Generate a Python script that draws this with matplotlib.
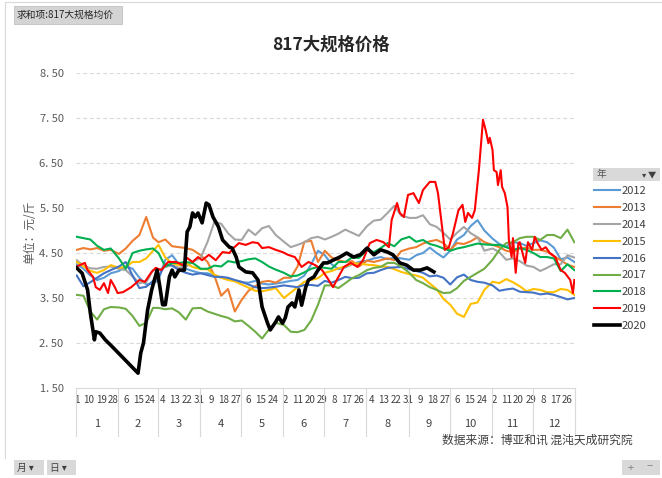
import matplotlib
matplotlib.use('Agg')
import matplotlib.pyplot as plt
from matplotlib.patches import Rectangle
from matplotlib.lines import Line2D
import matplotlib.transforms as mtransforms

plt.rcParams['font.family'] = ['Noto Sans CJK SC', 'DejaVu Sans']

# ---------------- data ----------------
MONTHS = ['1', '2', '3', '4', '5', '6', '7', '8', '9', '10', '11', '12']
MONTH_DAYS = [31, 29, 31, 30, 31, 30, 31, 31, 30, 31, 30, 31]
YEARS = ['2012', '2013', '2014', '2015', '2016', '2017', '2018', '2019', '2020']
COLORS = ['#5B9BD5', '#ED7D31', '#A5A5A5', '#FFC000', '#4472C4',
          '#70AD47', '#00B050', '#FF0000', '#000000']

GRID_DATES = [
    '1/1', '1/6', '1/11', '1/16', '1/21', '1/26',
    '2/1', '2/6', '2/11', '2/16', '2/21', '2/26',
    '3/1', '3/6', '3/11', '3/16', '3/21', '3/26',
    '4/1', '4/6', '4/11', '4/16', '4/21', '4/26',
    '5/1', '5/6', '5/11', '5/16', '5/21', '5/26',
    '6/1', '6/6', '6/11', '6/16', '6/21', '6/26',
    '7/1', '7/6', '7/11', '7/16', '7/21', '7/26',
    '8/1', '8/6', '8/11', '8/16', '8/21', '8/26',
    '9/1', '9/6', '9/11', '9/16', '9/21', '9/26',
    '10/1', '10/6', '10/11', '10/16', '10/21', '10/26',
    '11/1', '11/6', '11/11', '11/16', '11/21', '11/26',
    '12/1', '12/6', '12/11', '12/16', '12/21', '12/26', '12/31']

v2012 = [4.25, 4.15, 4.0, 3.9, 3.95, 4.05,
         4.1, 4.2, 4.15, 3.95, 3.8, 3.82,
         3.9, 4.35, 4.45, 4.25, 4.15, 4.1,
         4.05, 4.05, 4.0, 3.95, 3.92, 3.88,
         3.85, 3.84, 3.88, 3.82, 3.8, 3.82,
         3.85, 3.88, 3.9, 4.0, 4.25, 4.55,
         4.45, 4.25, 4.14, 4.18, 4.25, 4.3,
         4.33, 4.38, 4.41, 4.36, 4.4, 4.38,
         4.35, 4.45, 4.5, 4.62, 4.5, 4.4,
         4.55, 4.8, 4.9, 5.1, 5.23, 5.0,
         4.82, 4.7, 4.64, 4.74, 4.72, 4.66,
         4.72, 4.78, 4.74, 4.62, 4.36, 4.4, 4.3]
v2013 = [4.57, 4.61, 4.58, 4.61, 4.55, 4.57,
         4.48, 4.6, 4.77, 4.9, 5.3, 4.84,
         4.74, 4.8, 4.65, 4.63, 4.61, 4.57,
         4.45, 4.3, 4.0, 3.55, 3.7, 3.2,
         3.46, 3.66, 3.76, 3.86, 3.88, 3.84,
         3.95, 3.95, 4.2, 4.75, 4.77, 4.3,
         4.55, 4.4, 4.34, 4.3, 4.32, 4.2,
         4.33, 4.3, 4.34, 4.38, 4.34, 4.54,
         4.6, 4.63, 4.71, 4.76, 4.79, 4.72,
         4.57, 4.72, 4.7, 4.76, 4.85, 4.74,
         4.68, 4.63, 4.55, 4.52, 4.6, 4.62,
         4.57, 4.57, 4.53, 4.43, 4.34, 4.24, 4.19]
v2014 = [4.34, 4.22, 4.16, 4.15, 4.19, 4.2,
         4.15, 4.12, 3.98, 3.83, 3.85, 4.12,
         4.12, 4.19, 4.23, 4.17, 4.19, 4.3,
         4.4, 4.75, 5.19, 5.15, 4.94, 4.8,
         4.79, 5.02, 4.9, 5.05, 5.1, 4.9,
         4.75, 4.63, 4.68, 4.74, 4.83, 4.86,
         4.8, 4.86, 4.93, 5.02, 4.95, 4.88,
         5.1, 5.22, 5.24, 5.39, 5.55, 5.33,
         5.28, 5.28, 5.34, 5.14, 5.08, 4.95,
         4.8, 4.95, 5.08, 4.94, 4.85, 4.55,
         4.6, 4.52, 4.35, 4.38, 4.32, 4.22,
         4.19, 4.1, 4.17, 4.25, 4.25, 4.45, 4.4]
v2015 = [4.3, 4.2, 4.1, 4.06, 4.12, 4.23,
         4.17, 4.19, 4.3, 4.3, 4.38, 4.55,
         4.68, 4.4, 4.27, 4.23, 4.28, 4.19,
         4.14, 4.14, 4.02, 3.95, 3.9, 3.87,
         3.8, 3.73, 3.66, 3.65, 3.68, 3.72,
         3.5, 3.62, 3.74, 3.86, 3.9, 3.94,
         4.06, 4.1, 4.16, 4.2, 4.26, 4.27,
         4.24, 4.23, 4.2, 4.19, 4.14, 4.08,
         4.03, 4.0, 3.95, 3.82, 3.7, 3.48,
         3.35, 3.15, 3.08, 3.37, 3.4, 3.68,
         3.86, 3.83, 3.92, 3.85, 3.76, 3.65,
         3.7, 3.68, 3.63, 3.63, 3.7, 3.68, 3.57]
v2016 = [4.0, 3.76, 3.85, 3.95, 4.05, 4.12,
         4.2, 4.3, 4.0, 3.72, 3.75, 3.88,
         3.97, 4.25, 4.22, 4.12, 4.06, 4.02,
         4.05, 4.01, 3.97, 3.97, 3.95, 3.9,
         3.86, 3.8, 3.74, 3.72, 3.73, 3.75,
         3.78, 3.76, 3.74, 3.79, 3.79, 3.77,
         3.88, 3.84, 3.9, 3.97, 3.94, 3.95,
         4.05, 4.06, 4.12, 4.17, 4.18, 4.19,
         4.14, 4.1, 4.06, 3.98, 4.0, 3.95,
         3.8, 3.96, 4.02, 3.9, 3.86, 3.84,
         3.78, 3.66, 3.69, 3.71, 3.64, 3.63,
         3.62, 3.58, 3.6, 3.57, 3.52, 3.47, 3.5]
v2017 = [3.57, 3.55, 3.2, 3.02, 3.25, 3.3,
         3.29, 3.26, 3.1, 2.88, 2.95, 3.28,
         3.28, 3.25, 3.27, 3.18, 3.02, 3.27,
         3.28, 3.2, 3.15, 3.1, 3.06, 2.98,
         3.0, 2.88, 2.75, 2.6, 2.8, 2.95,
         2.9, 2.75, 2.74, 2.79, 3.0, 3.35,
         3.78, 3.78, 3.72, 3.83, 3.94, 4.01,
         4.12, 4.17, 4.19, 4.28, 4.28, 4.2,
         4.06, 3.9, 3.83, 3.74, 3.68, 3.61,
         3.62, 3.72, 3.88, 3.97, 4.06, 4.15,
         4.35, 4.57, 4.72, 4.74, 4.83, 4.86,
         4.86, 4.79, 4.9, 4.9, 4.83, 5.02, 4.74]
v2018 = [4.86, 4.83, 4.8, 4.66, 4.57, 4.6,
         4.38, 4.15, 4.5, 4.55, 4.58, 4.6,
         4.5, 4.2, 4.28, 4.28, 4.3, 4.28,
         4.15, 4.15, 4.22, 4.2, 4.32, 4.29,
         4.32, 4.36, 4.38, 4.3, 4.2, 4.13,
         4.06, 3.98, 4.0, 4.07, 4.15, 4.19,
         4.17, 4.15, 4.3, 4.3, 4.4, 4.39,
         4.57, 4.52, 4.61, 4.72, 4.65, 4.8,
         4.86, 4.75, 4.79, 4.7, 4.66, 4.6,
         4.55, 4.6, 4.63, 4.67, 4.71, 4.69,
         4.68, 4.68, 4.63, 4.57, 4.61, 4.57,
         4.5, 4.41, 4.41, 4.38, 4.1, 4.25, 4.12]

dates2019 = ['1/1', '1/7', '1/9', '1/13', '1/15', '1/18', '1/21', '1/24', '1/26', '1/29', '1/31',
             '2/4', '2/10', '2/16', '2/20', '2/25', '2/28',
             '3/3', '3/8', '3/14', '3/19', '3/22', '3/26', '3/30',
             '4/2', '4/7', '4/12', '4/17', '4/22', '4/25', '4/29',
             '5/4', '5/9', '5/13', '5/16', '5/21', '5/26', '5/31',
             '6/4', '6/9', '6/14', '6/19', '6/24', '6/29',
             '7/3', '7/7', '7/11', '7/15', '7/20', '7/25', '7/29',
             '8/3', '8/8', '8/13', '8/17', '8/19', '8/23', '8/25', '8/28', '8/31',
             '9/4', '9/8', '9/11', '9/16', '9/20', '9/22', '9/25', '9/27', '9/30',
             '10/3', '10/7', '10/10', '10/12', '10/14', '10/17', '10/19', '10/22', '10/24',
             '10/25', '10/27', '10/29', '10/30',
             '11/1', '11/2', '11/4', '11/5', '11/7', '11/8', '11/10', '11/12', '11/13',
             '11/15', '11/16', '11/18', '11/20', '11/21', '11/23', '11/25', '11/27', '11/30',
             '12/2', '12/4', '12/7', '12/10', '12/13', '12/17', '12/21', '12/24', '12/28',
             '12/30', '12/31']
v2019 = [4.2, 4.28, 4.12, 3.97, 3.74, 3.68, 3.83, 3.61, 3.9, 3.74, 3.61,
         3.63, 3.74, 3.9, 3.86, 4.08, 4.17,
         4.12, 4.3, 4.3, 4.23, 4.39, 4.3, 4.41,
         4.34, 4.46, 4.34, 4.52, 4.5, 4.61, 4.72,
         4.68, 4.74, 4.72, 4.61, 4.63, 4.57, 4.52,
         4.46, 4.41, 4.19, 4.3, 4.23, 4.12,
         3.94, 3.74, 3.97, 4.19, 4.28, 4.19, 4.34,
         4.72, 4.79, 4.74, 4.63, 5.23, 5.61, 5.39, 5.3, 5.79,
         5.83, 5.61, 5.9, 6.08, 6.08, 5.83, 5.08, 4.57, 4.63,
         4.94, 5.45, 5.57, 5.19, 5.39, 5.28, 5.45, 6.34, 7.08,
         7.46, 7.23, 6.94, 7.06,
         6.79, 6.34, 6.3, 6.01, 6.34, 5.97, 5.83, 5.52, 4.79,
         4.41, 4.83, 4.06, 4.72, 4.74, 4.5, 4.28, 4.74, 4.57,
         4.86, 4.72, 4.57, 4.63, 4.5, 4.41, 4.12, 4.06, 3.9,
         3.61, 3.9]

dates2020 = ['1/1', '1/5', '1/9', '1/11', '1/14', '1/15', '1/18', '1/22', '1/27',
             '2/15', '2/17', '2/19', '2/22', '2/25', '2/29',
             '3/2', '3/4', '3/6', '3/9', '3/11', '3/13', '3/16', '3/20', '3/22', '3/24',
             '3/26', '3/28', '3/30',
             '4/2', '4/5', '4/7', '4/10', '4/14', '4/17', '4/22', '4/24', '4/27', '4/29',
             '5/4', '5/9', '5/13', '5/16', '5/20', '5/22', '5/26', '5/28', '5/31',
             '6/2', '6/4', '6/7', '6/9', '6/12', '6/14', '6/17', '6/19', '6/23', '6/26', '6/30',
             '7/3', '7/7', '7/12', '7/17', '7/22', '7/27',
             '8/1', '8/6', '8/11', '8/16', '8/20', '8/25', '8/30',
             '9/4', '9/9', '9/14', '9/19']
v2020 = [4.17, 4.05, 3.68, 3.17, 2.57, 2.75, 2.72, 2.57, 2.42,
         1.83, 2.28, 2.5, 3.23, 3.68, 4.12,
         3.75, 3.35, 3.35, 3.97, 4.12, 3.97, 4.12, 4.12, 4.97, 5.08,
         5.39, 5.3, 5.39,
         5.17, 5.61, 5.57, 5.3, 5.08, 4.79, 4.63, 4.61, 4.41, 4.19,
         4.08, 4.06, 3.9, 3.3, 2.94, 2.79, 2.97, 3.08, 2.94,
         3.06, 3.3, 3.39, 3.3, 3.68, 3.34, 3.74, 3.9, 3.97, 4.12, 4.28,
         4.28, 4.34, 4.41, 4.5, 4.41, 4.46,
         4.61, 4.46, 4.57, 4.52, 4.46, 4.28, 4.23,
         4.12, 4.12, 4.17, 4.08]

SERIES = [(GRID_DATES, v2012), (GRID_DATES, v2013), (GRID_DATES, v2014),
          (GRID_DATES, v2015), (GRID_DATES, v2016), (GRID_DATES, v2017),
          (GRID_DATES, v2018), (dates2019, v2019), (dates2020, v2020)]

Y_TICKS = [1.5, 2.5, 3.5, 4.5, 5.5, 6.5, 7.5, 8.5]
Y_TICK_LABELS = ['1. 50', '2. 50', '3. 50', '4. 50', '5. 50', '6. 50', '7. 50', '8. 50']

# ---------------- helpers ----------------
MONTH_START = [sum(MONTH_DAYS[:i]) for i in range(12)]
N_DAYS = sum(MONTH_DAYS)


def day_index(s):
    m, d = s.split('/')
    return MONTH_START[int(m) - 1] + int(d) - 1


# day-of-month label for every day of the category axis
DAY_LABELS = [str(d) for m in range(12) for d in range(1, MONTH_DAYS[m] + 1)]

# ---------------- figure ----------------
W, H = 662, 478
fig = plt.figure(figsize=(W / 100, H / 100), dpi=100)
fig.patch.set_facecolor('white')


def fx(px):
    return px / W


def fy(py):
    return 1 - py / H


ax = fig.add_axes([fx(76), fy(388), fx(575) - fx(76), fy(73) - fy(388)])
ax.set_xlim(-0.5, N_DAYS - 0.5)
ax.set_ylim(1.5, 8.5)

for y in Y_TICKS[1:]:
    ax.axhline(y, color='#D9D9D9', lw=0.8, ls=(0, (3.5, 2.5)), zorder=0)

for (dates, vals), name, c in zip(SERIES, YEARS, COLORS):
    xs = [day_index(s) for s in dates]
    lw = 2.6 if name == '2020' else 1.5
    ax.plot(xs, vals, color=c, lw=lw, label=name, solid_joinstyle='round', zorder=3)

for sp in ['top', 'right', 'left']:
    ax.spines[sp].set_visible(False)
ax.spines['bottom'].set_color('#D9D9D9')
ax.spines['bottom'].set_linewidth(0.8)

ax.set_yticks(Y_TICKS)
ax.set_yticklabels(Y_TICK_LABELS)
ax.tick_params(axis='y', length=0, pad=9, labelsize=8, labelcolor='#595959')

xt = list(range(0, N_DAYS, 9))
ax.set_xticks(xt)
ax.set_xticklabels([DAY_LABELS[i] for i in xt])
ax.tick_params(axis='x', length=0, pad=5, labelsize=7, labelcolor='#404040')

trans = mtransforms.blended_transform_factory(ax.transData, ax.transAxes)
bounds = MONTH_START + [N_DAYS]
for b in bounds:
    ax.plot([b - 0.5, b - 0.5], [0, -0.152], transform=trans, color='#D9D9D9',
            lw=0.8, clip_on=False)
for i, m in enumerate(MONTHS):
    cx = (bounds[i] + bounds[i + 1]) / 2 - 0.5
    ax.text(cx, -0.114, m, transform=trans, ha='center', va='center',
            fontsize=8, color='#404040')

# title & labels
fig.text(fx(331), fy(45), '817大规格价格', ha='center', va='center',
         fontsize=12.5, fontweight='bold', color='#262626')
fig.text(fx(30), fy(232), '单位：元/斤', rotation=90, ha='center', va='center',
         fontsize=8.5, color='#595959')
fig.text(fx(633), fy(440), '数据来源：博亚和讯 混沌天成研究院', ha='right', va='center',
         fontsize=8.5, color='#404040')

# legend
leg = ax.legend(loc='upper left', bbox_to_anchor=(fx(594), fy(186)),
                bbox_transform=fig.transFigure, frameon=False, fontsize=8,
                handlelength=2.3, handletextpad=0.2, labelspacing=0.62,
                borderpad=0, borderaxespad=0)
for t in leg.get_texts():
    t.set_color('#404040')

# legend header (field button)
fig.patches.append(Rectangle((fx(593), fy(181)), fx(660) - fx(593), fy(168) - fy(181),
                             transform=fig.transFigure, facecolor='#D9D9D9',
                             edgecolor='none'))
fig.text(fx(597), fy(174.5), '年', ha='left', va='center', fontsize=7, color='#595959')
fig.text(fx(644), fy(174.5), '▾', ha='center', va='center', fontsize=6, color='#404040')
fig.text(fx(652), fy(174.5), '▼', ha='center', va='center', fontsize=6, color='#404040')

# top-left value field button
fig.patches.append(Rectangle((fx(14), fy(24)), fx(122) - fx(14), fy(6) - fy(24),
                             transform=fig.transFigure, facecolor='#D4D4D4',
                             edgecolor='#C0C0C0', lw=0.6))
fig.text(fx(17), fy(15), '求和项:817大规格均价', ha='left', va='center',
         fontsize=7, color='#262626')

# bottom-left axis field buttons
for x0, x1, lab in [(14, 44, '月 ▾'), (47, 76, '日 ▾')]:
    fig.patches.append(Rectangle((fx(x0), fy(475)), fx(x1) - fx(x0), fy(460) - fy(475),
                                 transform=fig.transFigure, facecolor='#D9D9D9',
                                 edgecolor='none'))
    fig.text(fx(x0 + 3), fy(467.5), lab, ha='left', va='center', fontsize=7,
             color='#404040')

# bottom-right +/- buttons
fig.patches.append(Rectangle((fx(622), fy(475)), fx(660) - fx(622), fy(460) - fy(475),
                             transform=fig.transFigure, facecolor='#D9D9D9',
                             edgecolor='none'))
fig.text(fx(631), fy(467.5), '+', ha='center', va='center', fontsize=8, color='#808080')
fig.text(fx(650), fy(467.5), '−', ha='center', va='center', fontsize=8, color='#808080')

# chart area border
fig.lines.append(Line2D([fx(5), fx(662)], [fy(2), fy(2)], transform=fig.transFigure,
                        color='#D9D9D9', lw=0.8))
fig.lines.append(Line2D([fx(5), fx(5)], [fy(2), fy(458)], transform=fig.transFigure,
                        color='#D9D9D9', lw=0.8))

fig.savefig('out.png', dpi=100)
